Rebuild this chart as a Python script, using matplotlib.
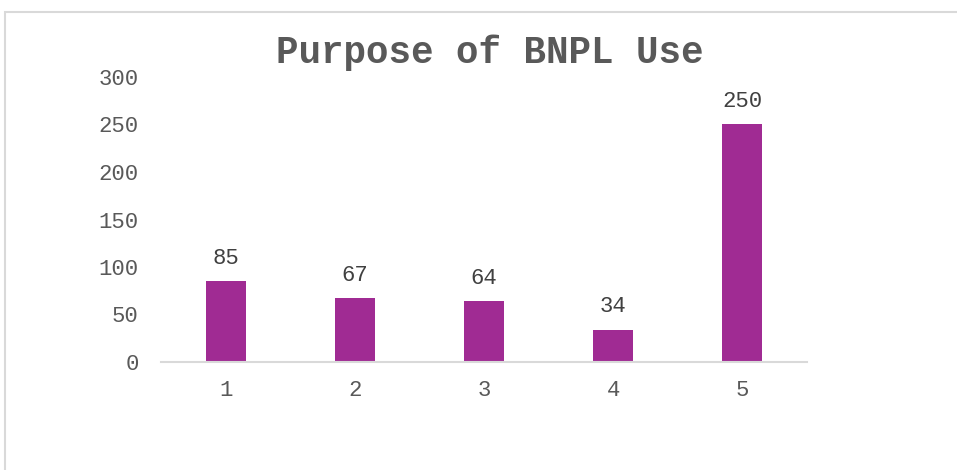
import matplotlib
matplotlib.use("Agg")
import matplotlib.pyplot as plt
from matplotlib.patches import Rectangle

categories = ["1", "2", "3", "4", "5"]
values = [85, 67, 64, 34, 250]
yticks = [0, 50, 100, 150, 200, 250, 300]

plt.rcParams['font.family'] = ['Liberation Mono', 'DejaVu Sans Mono']

W, H = 957, 470
fig = plt.figure(figsize=(W/100, H/100), dpi=100)
ax = fig.add_axes([161/W, 1-362/H, (807-161)/W, (362-77)/H])

x = list(range(len(categories)))
bars = ax.bar(x, values, width=0.31, color="#A02B93", zorder=2)
ax.set_xlim(-0.5, len(categories)-0.5)
ax.set_ylim(0, 300)
ax.set_yticks(yticks)
ax.set_yticklabels([str(v) for v in yticks])
ax.set_xticks(x)
ax.set_xticklabels(categories)
ax.tick_params(axis='both', length=0, labelsize=16, labelcolor="#595959")
ax.tick_params(axis='y', pad=16)
ax.tick_params(axis='x', pad=13)
for s in ['top', 'right', 'left']:
    ax.spines[s].set_visible(False)
ax.spines['bottom'].set_color("#D9D9D9")
ax.spines['bottom'].set_linewidth(1.5)

for xi, v in zip(x, values):
    ax.annotate(str(v), (xi, v), xytext=(0, 9), textcoords='offset points',
                ha='center', va='bottom', fontsize=16, color="#404040")

fig.text(490/W, 1-53/H, "Purpose of BNPL Use", ha='center', va='center',
         fontsize=27, fontweight='bold', color="#595959")

fig.patches.append(Rectangle((5/W, -0.2), 1.2, 1-12/H+0.2, transform=fig.transFigure,
                             fill=False, edgecolor="#D9D9D9", linewidth=1.5))

fig.savefig("out.png", dpi=100)
